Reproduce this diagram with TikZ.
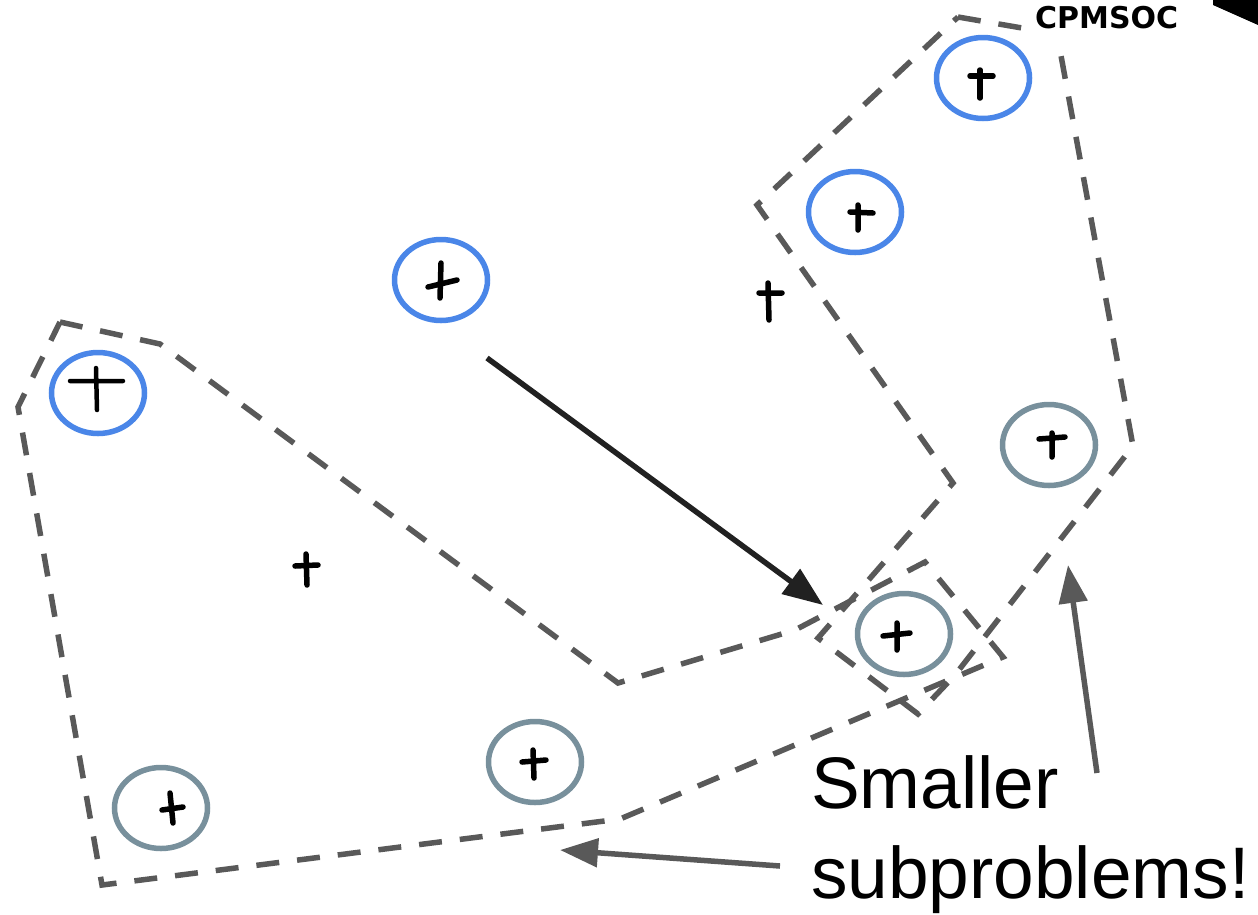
\documentclass[tikz,border=0pt]{standalone}
\usepackage{fontspec}
\setmainfont{Liberation Sans}
\newfontfamily\tagfont{DejaVu Sans}
\usetikzlibrary{arrows.meta, shapes.geometric}

\definecolor{hullgray}{HTML}{595959}
\definecolor{hullblue}{HTML}{4A86E8}
\definecolor{slate}{HTML}{78909C}
\definecolor{inkblack}{HTML}{212121}

\tikzset{
    x=1pt, y=-1pt, % one unit per pixel, y pointing down
    point/.style={ellipse, line width=5.5pt, minimum width=93pt, minimum height=81pt, inner sep=0pt},
    onhull/.style={point, draw=hullblue},
    interior/.style={point, draw=slate},
    pen/.style={line width=5.5pt, line cap=round, black},
    hull/.style={draw=hullgray, line width=5.5pt, dash pattern=on 23pt off 18pt},
    pointer/.style={draw=hullgray, line width=5.5pt, -{Triangle[length=38pt, width=28pt]}},
}

\begin{document}
\begin{tikzpicture}
    \useasboundingbox (0,0) rectangle (1258,914);

    % the two overlapping subproblems
    \draw[hull] (60,322) -- (160,344) -- (618,683) -- (795,630) -- (925,562)
        -- (1003,657) -- (620,819) -- (102,885) -- (18,407) -- cycle;
    \draw[hull] (958,17) -- (1057,34) -- (1133,446) -- (955,675) -- (918,714)
        -- (818,638) -- (953,483) -- (757,205) -- cycle;

    \node[onhull] (b1) at (983,78) {};
    \node[onhull] (b2) at (855,212) {};
    \node[onhull] (b3) at (441,280) {};
    \node[onhull] (b4) at (98,393) {};
    \node[interior] (g1) at (1049,445) {};
    \node[interior] (g2) at (904,634) {};
    \node[interior] (g3) at (535,762) {};
    \node[interior] (g4) at (161,808) {};
    \coordinate (f1) at (768,300);
    \coordinate (f2) at (306,570);

    % hand-drawn points
    \draw[pen] (970,76) -- (993,76) (980,70) -- (980,98);
    \draw[pen] (850,212) -- (873,213) (858,205) -- (858,230);
    \draw[pen] (428,287) -- (457,280) (441,263) -- (440,298);
    \draw[pen, line width=4.5pt] (70,381) -- (123,381) (96,368) -- (97,410);
    \draw[pen] (1039,439) -- (1065,437) (1052,433) -- (1052,457);
    \draw[pen] (883,636) -- (910,633) (897,623) -- (897,650);
    \draw[pen] (522,762) -- (546,760) (533,750) -- (534,778);
    \draw[pen] (162,810) -- (183,807) (170,793) -- (173,823);
    \draw[pen] (759,293) -- (782,293) (768,283) -- (769,320);
    \draw[pen] (295,566) -- (318,565) (306,554) -- (307,585);

    \coordinate (pushfrom) at (487,358);
    \coordinate (pushto) at (823,605);
    \draw[pointer, draw=inkblack, -{Triangle[length=40pt, width=30pt]}] (pushfrom) -- (pushto);

    \node[font=\fontsize{73}{90}\selectfont, align=left, anchor=north west, inner sep=0pt]
        (note) at (811,755) {Smaller\\subproblems!};
    \coordinate (noteup) at (1097,773);
    \coordinate (noteleft) at (780,866);
    \coordinate (hullR) at (1068,565);
    \coordinate (hullL) at (560,850);
    \draw[pointer] (noteup) -- (hullR);
    \draw[pointer] (noteleft) -- (hullL);

    \fill[white] (1031,0) rectangle (1182,46);
    \node[font=\tagfont\bfseries\fontsize{30}{30}\selectfont, anchor=base west, inner sep=0pt]
        (tag) at (1035,28) {CPMSOC};
    \fill (1213,0) -- (1258,0) -- (1258,25) -- (1213,5) -- cycle;
\end{tikzpicture}
\end{document}
